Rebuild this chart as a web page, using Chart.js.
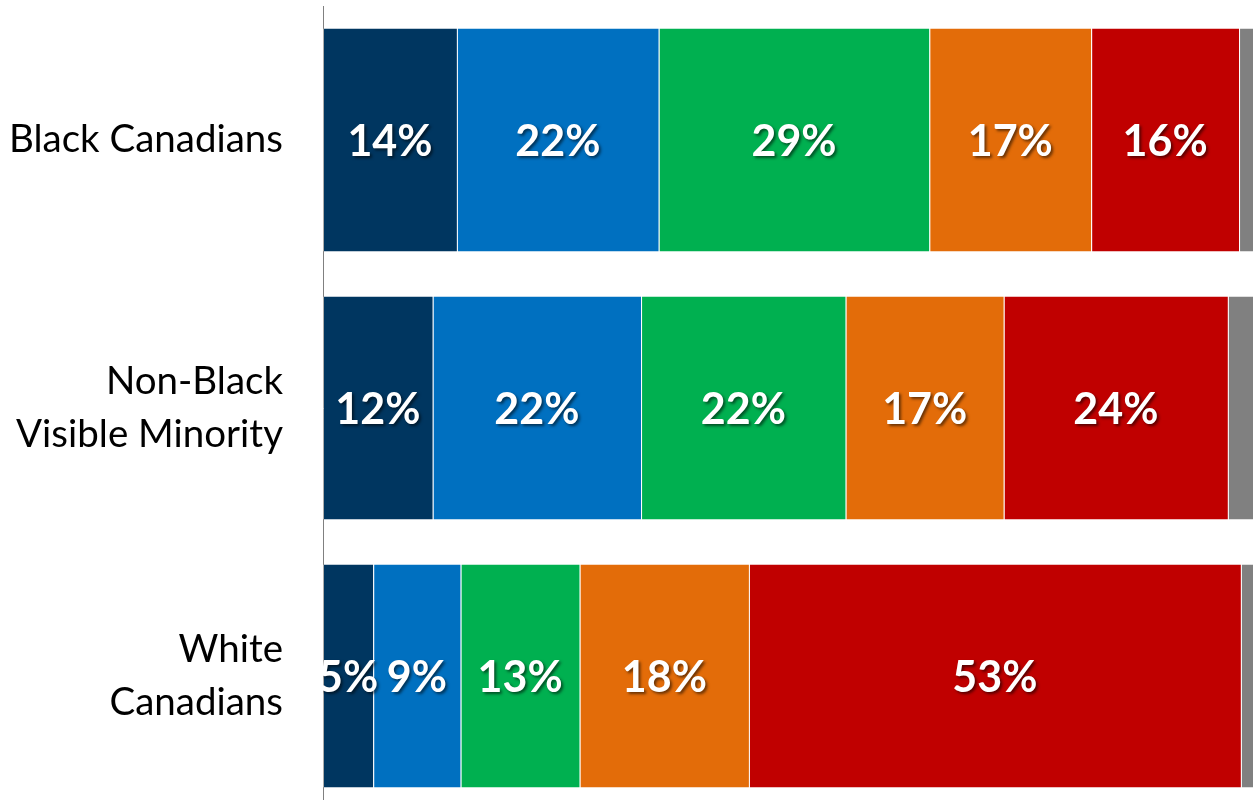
<!DOCTYPE html>
<html>
<head>
<meta charset="utf-8">
<script src="https://cdn.jsdelivr.net/npm/chart.js@4"></script>
<style>
html,body{margin:0;padding:0;background:#fff;overflow:hidden;}
#wrap{position:relative;width:1255px;height:812px;}
</style>
</head>
<body>
<div id="wrap"><canvas id="c"></canvas></div>
<script>
const categories = [["Black Canadians"], ["Non-Black", "Visible Minority"], ["White", "Canadians"]];
const seriesNames = ["Segment 1", "Segment 2", "Segment 3", "Segment 4", "Segment 5", "Segment 6"];
const seg1 = [14.4, 11.8, 5.4];
const seg2 = [21.7, 22.4, 9.4];
const seg3 = [29.1, 22.0, 12.8];
const seg4 = [17.4, 17.0, 18.2];
const seg5 = [15.9, 24.1, 52.9];
const seg6 = [1.5, 2.7, 1.3];
const showLabel = [true, true, true, true, true, false];
const colors = ["#003660", "#0070C0", "#00B050", "#E36C09", "#C00000", "#808080"];

const allSeries = [seg1, seg2, seg3, seg4, seg5, seg6];

const labelPlugin = {
  id: 'segLabels',
  afterDatasetsDraw(chart) {
    const ctx = chart.ctx;
    const area = chart.chartArea;
    ctx.save();
    ctx.beginPath();
    ctx.rect(area.left, area.top, area.right - area.left, area.bottom - area.top);
    ctx.clip();
    ctx.font = 'bold 43px Lato';
    ctx.textAlign = 'center';
    ctx.textBaseline = 'middle';
    ctx.fillStyle = '#ffffff';
    ctx.shadowColor = 'rgba(0,0,0,0.55)';
    ctx.shadowOffsetX = 2;
    ctx.shadowOffsetY = 2;
    ctx.shadowBlur = 3;
    chart.data.datasets.forEach((ds, di) => {
      if (!showLabel[di]) return;
      const meta = chart.getDatasetMeta(di);
      meta.data.forEach((bar, i) => {
        const v = ds.data[i];
        const p = bar.getProps(['x', 'y', 'base'], true);
        const cx = (p.x + p.base) / 2;
        ctx.fillText(Math.round(v) + '%', cx, p.y + 2);
      });
    });
    ctx.restore();
  }
};

new Chart(document.getElementById('c'), {
  type: 'bar',
  data: {
    labels: categories,
    datasets: allSeries.map((d, i) => ({
      label: seriesNames[i],
      data: d,
      backgroundColor: colors[i],
      borderColor: 'rgba(255,255,255,0.35)',
      borderWidth: {left: 1, right: 0, top: 0, bottom: 0},
      borderSkipped: false,
      categoryPercentage: 1,
      barPercentage: 0.832
    }))
  },
  options: {
    indexAxis: 'y',
    responsive: true,
    maintainAspectRatio: false,
    animation: false,
    layout: {padding: {top: 6, bottom: 2, right: 2, left: 0}},
    plugins: {legend: {display: false}, tooltip: {enabled: false}},
    scales: {
      x: {
        stacked: true, min: 0, max: 100, display: false
      },
      y: {
        stacked: true,
        grid: {display: false, drawTicks: false},
        border: {display: true, color: '#808080', width: 1},
        ticks: {
          color: '#000000',
          padding: 40,
          font: {family: 'Lato', size: 38.5, lineHeight: 1.36}
        },
        afterFit(scale) {
          scale.width = 323;
          scale.paddingTop = 0;
          scale.paddingBottom = 0;
        }
      }
    }
  },
  plugins: [labelPlugin]
});
</script>
</body>
</html>
